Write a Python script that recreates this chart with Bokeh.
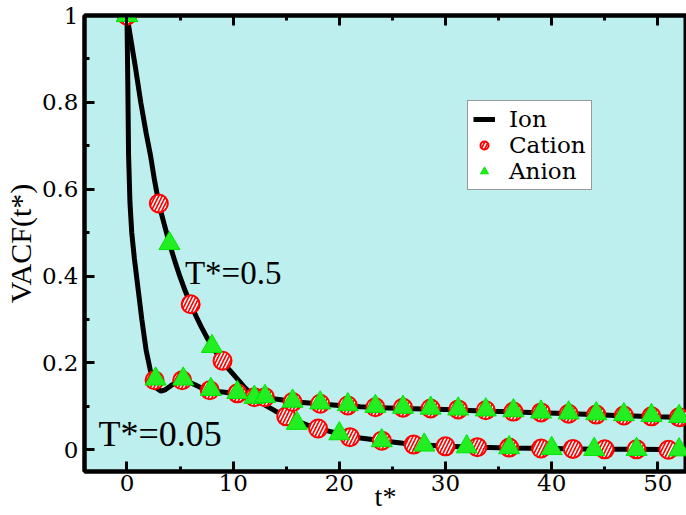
from bokeh.plotting import figure
from bokeh.models import (Range1d, LinearAxis, FixedTicker, NumeralTickFormatter,
                          Legend, LegendItem, Label)
from bokeh.embed import file_html
from bokeh.resources import INLINE

# ---------------- data ----------------
# T* = 0.5 : ion VACF curve
t_hot_ion = [0, 0.4, 0.8, 1.3, 1.8, 2.2, 2.6, 3.0, 3.5, 4.0, 4.5, 5.0, 5.5, 6.0, 6.5, 7.0,
             7.5, 8.0, 8.5, 9.0, 9.5, 10, 11, 12, 13, 14, 15, 16, 17, 18, 19, 20, 21, 22,
             24, 26, 28, 30, 33, 36, 40, 44, 48, 53]
v_hot_ion = [1.0, 0.94, 0.88, 0.80, 0.73, 0.68, 0.62, 0.567, 0.52, 0.475, 0.435, 0.398,
             0.365, 0.335, 0.308, 0.283, 0.26, 0.239, 0.22, 0.203, 0.188, 0.174, 0.146,
             0.121, 0.103, 0.089, 0.077, 0.066, 0.057, 0.049, 0.043, 0.037, 0.031, 0.027,
             0.021, 0.015, 0.011, 0.008, 0.006, 0.004, 0.003, 0.001, 0.001, 0.0]
# T* = 0.5 : cation / anion
t_hot_cat = [0, 3, 6, 9, 12, 15, 18, 21, 24, 27, 30, 33, 36, 39, 42, 45, 48, 51]
v_hot_cat = [1.0, 0.567, 0.335, 0.205, 0.121, 0.077, 0.049, 0.029, 0.021, 0.012, 0.008,
             0.006, 0.005, 0.003, 0.002, 0.001, 0.001, 0.0]
t_hot_an = [0, 4, 8, 12, 16, 20, 24, 28, 32, 36, 40, 44, 48, 52]
v_hot_an = [1.0, 0.475, 0.238, 0.121, 0.061, 0.037, 0.021, 0.011, 0.007, 0.005, 0.003,
            0.001, 0.001, 0.0]

# T* = 0.05 : ion VACF curve
t_cold_ion = [0, 0.08, 0.15, 0.28, 0.45, 0.7, 1.0, 1.4, 1.8, 2.2, 2.5, 2.8, 3.2, 3.6, 4.1,
              4.6, 5.1, 5.6, 6.2, 6.8, 7.4, 8.0, 9, 10, 11, 12, 13, 14, 16, 18, 20, 22, 24,
              26, 30, 34, 38, 42, 46, 50, 53]
v_cold_ion = [1.0, 0.84, 0.68, 0.57, 0.50, 0.44, 0.38, 0.30, 0.23, 0.183, 0.157, 0.142,
              0.135, 0.138, 0.147, 0.155, 0.159, 0.158, 0.152, 0.145, 0.139, 0.135, 0.133,
              0.130, 0.127, 0.124, 0.121, 0.117, 0.110, 0.106, 0.102, 0.099, 0.097, 0.095,
              0.093, 0.089, 0.086, 0.083, 0.079, 0.076, 0.074]
# T* = 0.05 : cation / anion
t_cold_cat = [0, 2.6, 5.2, 7.8, 10.4, 13.0, 15.6, 18.2, 20.8, 23.4, 26.0, 28.6, 31.2, 33.8,
              36.4, 39.0, 41.6, 44.2, 46.8, 49.4, 52.0]
v_cold_cat = [1.0, 0.160, 0.160, 0.137, 0.130, 0.121, 0.110, 0.106, 0.102, 0.098, 0.097,
              0.095, 0.093, 0.091, 0.088, 0.086, 0.083, 0.081, 0.079, 0.077, 0.075]
t_cold_an = [0, 2.7, 5.3, 7.9, 10.4, 13.0, 15.6, 18.2, 20.8, 23.4, 26.0, 28.6, 31.2, 33.8,
             36.4, 39.0, 41.6, 44.2, 46.8, 49.4, 52.0]
v_cold_an = [1.0, 0.163, 0.163, 0.139, 0.132, 0.123, 0.112, 0.108, 0.104, 0.100, 0.098,
             0.096, 0.094, 0.092, 0.090, 0.087, 0.085, 0.083, 0.081, 0.079, 0.077]

x_major = [0, 10, 20, 30, 40, 50]
x_minor = [-5, 5, 15, 25, 35, 45, 55]
y_major = [0, 0.2, 0.4, 0.6, 0.8, 1.0]
y_minor = [0.1, 0.3, 0.5, 0.7, 0.9]

SERIF = "'Liberation Serif', serif"
SMALL_SERIF = "DejaVu Serif"

p = figure(width=686, height=515, output_backend="svg", toolbar_location=None,
           x_range=Range1d(-4, 52.7), y_range=Range1d(-0.05, 1.0),
           min_border_left=81, min_border_right=0, min_border_top=15, min_border_bottom=44,
           x_axis_label="t*", y_axis_label="VACF(t*)")
p.grid.visible = False
p.background_fill_color = "#bdefee"
p.border_fill_color = "white"
p.outline_line_color = "black"
p.outline_line_width = 4

xt = FixedTicker(ticks=x_major, minor_ticks=x_minor)
yt = FixedTicker(ticks=y_major, minor_ticks=y_minor)


def style_axis(ax, ticksize):
    ax.axis_line_width = 4
    ax.axis_line_color = "black"
    ax.major_tick_in = 10
    ax.major_tick_out = 0
    ax.minor_tick_in = 5
    ax.minor_tick_out = 0
    ax.major_tick_line_width = 3
    ax.minor_tick_line_width = 3
    ax.major_tick_line_color = "black"
    ax.minor_tick_line_color = "black"
    ax.major_label_text_font = SMALL_SERIF
    ax.major_label_text_font_style = "normal"
    ax.major_label_text_color = "black"
    ax.major_label_text_font_size = ticksize
    ax.axis_label_text_font = SERIF
    ax.axis_label_text_font_style = "normal"
    ax.axis_label_text_color = "black"


xa = p.xaxis[0]
xa.ticker = xt
style_axis(xa, "23px")
xa.major_label_standoff = 3
xa.formatter = NumeralTickFormatter(format="0")
xa.axis_label_text_font_size = "28px"
xa.axis_label_standoff = -13

ya = p.yaxis[0]
ya.ticker = yt
style_axis(ya, "23px")
ya.major_label_standoff = 6
ya.formatter = NumeralTickFormatter(format="0.[0]")
ya.axis_label_text_font_size = "30px"
ya.axis_label_standoff = 2

top = LinearAxis(ticker=FixedTicker(ticks=x_major, minor_ticks=x_minor))
style_axis(top, "8px")
top.major_label_standoff = 0
top.major_label_overrides = {t: "" for t in x_major}
p.add_layout(top, "above")

# curves
ion_hot = p.line(t_hot_ion, v_hot_ion, line_width=5, line_color="black")
p.line(t_cold_ion, v_cold_ion, line_width=5, line_color="black")

circ_kw = dict(marker="circle", size=18, fill_color="#ff0000", line_color="#ff0000",
               line_width=2, hatch_pattern="/", hatch_color="white", hatch_scale=7,
               hatch_weight=1.6)
cat_hot = p.scatter(t_hot_cat, v_hot_cat, **circ_kw)
p.scatter(t_cold_cat, v_cold_cat, **circ_kw)

tri_kw = dict(marker="triangle", size=21, fill_color="#22ee22", line_color="#00e600",
              line_width=1)
an_hot = p.scatter(t_hot_an, v_hot_an, **tri_kw)
p.scatter(t_cold_an, v_cold_an, **tri_kw)

# annotations
p.add_layout(Label(x=5.46, y=0.406, text="T*=0.5", text_font=SERIF, text_font_size="33px",
                   text_align="left", text_baseline="alphabetic", text_color="black"))
p.add_layout(Label(x=-2.69, y=0.0375, text="T*=0.05", text_font=SERIF,
                   text_font_size="36px", text_align="left", text_baseline="alphabetic",
                   text_color="black"))

legend = Legend(items=[LegendItem(label="Ion", renderers=[ion_hot]),
                       LegendItem(label="Cation", renderers=[cat_hot]),
                       LegendItem(label="Anion", renderers=[an_hot])],
                location=(383, 281), margin=0, padding=5, spacing=0,
                glyph_width=22, glyph_height=20, label_height=20, label_standoff=14,
                label_text_font=SMALL_SERIF, label_text_font_style="normal",
                label_text_font_size="23px",
                label_text_color="black",
                border_line_color="#333333", border_line_width=1,
                background_fill_color="white", background_fill_alpha=1.0)
p.add_layout(legend)

open("out.html", "w").write(file_html(p, INLINE))
